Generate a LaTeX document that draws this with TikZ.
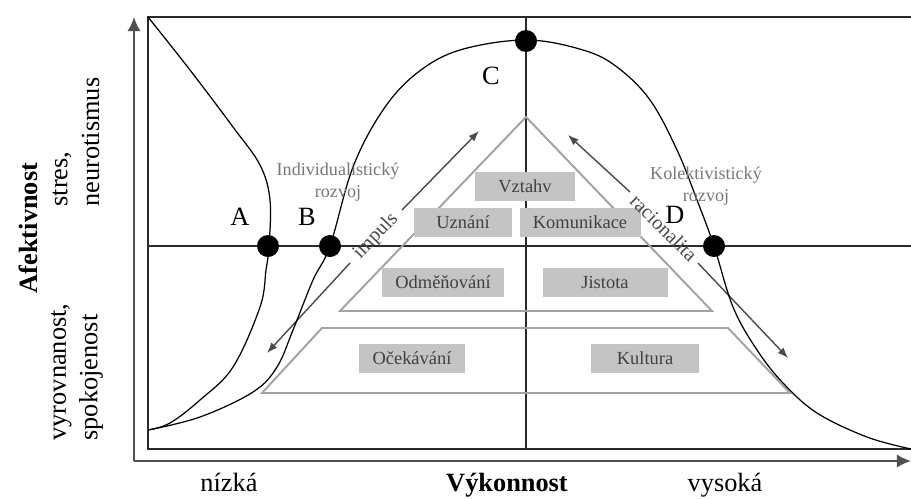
\documentclass[tikz,border=0pt]{standalone}
\usepackage{fontspec}
\setmainfont{Liberation Serif}
\usepackage{xcolor}
\usepackage{tikz}
\usetikzlibrary{positioning, arrows.meta}

\definecolor{framegray}{HTML}{2A2A2A}
\definecolor{axisgray}{HTML}{505050}
\definecolor{pyrgray}{HTML}{A2A2A2}
\definecolor{tilegray}{HTML}{C4C4C4}
\definecolor{tiletext}{HTML}{404040}
\definecolor{devgray}{HTML}{777777}
\definecolor{arrowgray}{HTML}{4A4A4A}

\begin{document}
\begin{tikzpicture}[
        x=0.02cm, y=-0.02cm,
        big/.style={font=\fontsize{15}{18}\selectfont},
        tile/.style={fill=tilegray, text=tiletext, minimum height=0.58cm, inner sep=0pt,
            font=\fontsize{10.5}{12}\selectfont},
        pyr/.style={draw=pyrgray, line width=1.1pt},
        dot/.style={circle, fill=black, minimum size=0.44cm, inner sep=0pt},
        dev/.style={text=devgray, align=center, font=\fontsize{10.3}{12.5}\selectfont},
        flow/.style={draw=arrowgray, line width=0.8pt, -{Latex[length=6pt,width=4.5pt]}},
        axis/.style={draw=axisgray, line width=1.1pt, -{Latex[length=8pt,width=7.5pt]}},
        tag/.style={text=arrowgray, font=\fontsize{11.5}{13}\selectfont}
    ]
    \useasboundingbox (0,0) rectangle (911,498);

    % Axes
    \coordinate (origin) at (134,461);
    \coordinate (ytop) at (134,17);
    \coordinate (xend) at (911,461);
    \draw[axis] (origin) -- (ytop);
    \draw[axis] (origin) -- (xend);

    % Frame and quadrants
    \draw[framegray, line width=0.75pt] (911,17) -- (148,17) -- (148,449) -- (911,449);
    \draw[framegray, line width=0.75pt] (526,17) -- (526,449);
    \draw[framegray, line width=0.75pt] (148,246) -- (911,246);

    % Pyramid
    \draw[pyr] (526,117) -- (340,311) -- (712,311) -- cycle;
    \draw[pyr] (322,328) -- (728,328) -- (790,393) -- (262,393) -- cycle;

    % Tiles
    \node[tile, minimum width=2cm] (vztahv) at (525,186) {Vztahv};
    \node[tile, minimum width=1.96cm] (uznani) at (463,222) {Uznání};
    \node[tile, minimum width=2.42cm] (komunikace) at (580,222) {Komunikace};
    \node[tile, minimum width=2.46cm] (odmenovani) at (443,282) {Odměňování};
    \node[tile, minimum width=2.5cm] (jistota) at (605,282) {Jistota};
    \node[tile, minimum width=2.12cm] (ocekavani) at (412,358) {Očekávání};
    \node[tile, minimum width=2.16cm] (kultura) at (645,358) {Kultura};

    % Impuls and racionalita
    \coordinate (impS) at (267,353);
    \coordinate (impA) at (350,263);
    \coordinate (impB) at (402,210);
    \coordinate (impE) at (479,131);
    \draw[flow] (impA) -- (impS);
    \draw[flow] (impB) -- (impE);
    \node[tag, rotate=46] (impuls) at (376,236) {impuls};

    \coordinate (racS) at (568,135);
    \coordinate (racA) at (630,192);
    \coordinate (racB) at (698,263);
    \coordinate (racE) at (788,358);
    \draw[flow] (racA) -- (racS);
    \draw[flow] (racB) -- (racE);
    \node[tag, rotate=-45] (racionalita) at (664,228) {racionalita};

    % Curves
    \draw[line width=0.7pt] plot[smooth, tension=0.6] coordinates {
        (148,17) (190,70) (233,127) (260,165) (270,200) (269,246) (266,270)
        (260,307) (233,367) (200,400) (170,423) (148,430)};
    \draw[line width=0.7pt] plot[smooth, tension=0.6] coordinates {
        (148,430) (200,417) (253,392) (277,367) (293,330) (313,280) (330,246)
        (353,167) (383,110) (417,73) (460,50) (526,40) (583,50) (617,67)
        (650,100) (677,150) (697,200) (714,246) (733,307) (757,350) (783,383)
        (817,413) (867,437) (911,449)};

    % Points
    \node[dot] (ptA) at (268,246) {};
    \node[dot] (ptB) at (330,246) {};
    \node[dot] (ptC) at (526,41) {};
    \node[dot] (ptD) at (714,246) {};
    \node[big] at (240,217) {A};
    \node[big] at (307,217) {B};
    \node[big] at (491,76) {C};
    \node[big] at (675,215) {D};

    % Development
    \node[dev] (indiv) at (338,182) {Individualistický\\rozvoj};
    \node[dev] (kolekt) at (706,186) {Kolektivistický\\rozvoj};

    % Axis labels
    \node[big, font=\fontsize{15}{18}\selectfont\bfseries, rotate=90] (afekt) at (28,228) {Afektivnost};
    \node[big, rotate=90, align=left] (stres) at (76,142) {stres,\\neurotismus};
    \node[big, rotate=90, align=left] (klid) at (77,372) {vyrovnanost,\\spokojenost};
    \node[big, anchor=base] (nizka) at (229,491) {nízká};
    \node[big, font=\fontsize{15}{18}\selectfont\bfseries, anchor=base] (vykon) at (507,491) {Výkonnost};
    \node[big, anchor=base] (vysoka) at (725,491) {vysoká};

\end{tikzpicture}
\end{document}
